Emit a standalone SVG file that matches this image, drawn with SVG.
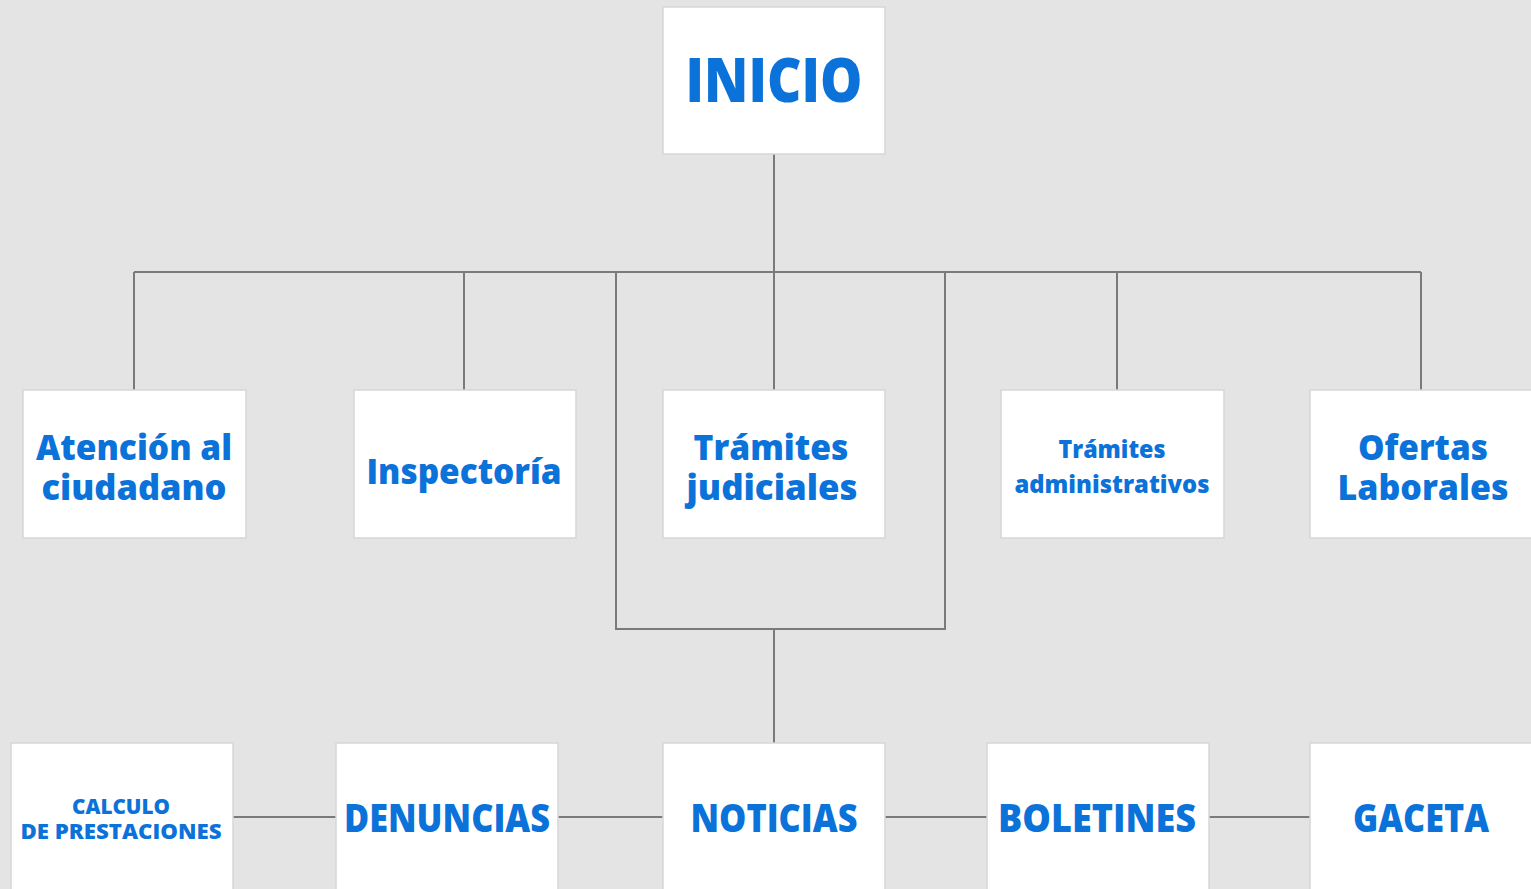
<svg xmlns="http://www.w3.org/2000/svg" width="1531" height="889" viewBox="0 0 1531 889">
<style>
.bg{fill:#e4e4e4}
.box{fill:#ffffff;stroke:#d6d6d6;stroke-width:1.5}
.t{font-family:"Open Sans","Noto Sans","Liberation Sans",sans-serif;font-weight:800;fill:#0b72d9;text-anchor:middle}
.ln{stroke:#7a7a7a;stroke-width:2;fill:none}
</style>
<rect class="bg" x="0" y="0" width="1531" height="889"/>
<g id="connectors">
<path class="ln" d="M774 154V272M134 272H1421M134 272V390M464 272V390M774 272V390M1117 272V390M1421 272V390"/>
<path class="ln" d="M616 272V629H945V272M774 629V743"/>
<path class="ln" d="M233 817H336M558 817H663M885 817H987M1209 817H1310"/>
</g>
<g id="inicio"><rect class="box" x="663" y="7" width="222" height="147"/><text class="t" x="774" y="102" font-size="62" textLength="177" lengthAdjust="spacingAndGlyphs">INICIO</text></g>
<g id="atencion"><rect class="box" x="23" y="390" width="223" height="148"/><text class="t" x="134" y="460" font-size="35" textLength="196" lengthAdjust="spacingAndGlyphs">Atención al</text><text class="t" x="134" y="500" font-size="35" textLength="185" lengthAdjust="spacingAndGlyphs">ciudadano</text></g>
<g id="inspectoria"><rect class="box" x="354" y="390" width="222" height="148"/><text class="t" x="464" y="484" font-size="36" textLength="195" lengthAdjust="spacingAndGlyphs">Inspectoría</text></g>
<g id="tramites-judiciales"><rect class="box" x="663" y="390" width="222" height="148"/><text class="t" x="771" y="460" font-size="35" textLength="155" lengthAdjust="spacingAndGlyphs">Trámites</text><text class="t" x="772" y="500" font-size="35" textLength="171" lengthAdjust="spacingAndGlyphs">judiciales</text></g>
<g id="tramites-administrativos"><rect class="box" x="1001" y="390" width="223" height="148"/><text class="t" x="1112" y="458" font-size="25" textLength="107" lengthAdjust="spacingAndGlyphs">Trámites</text><text class="t" x="1112" y="493" font-size="25" textLength="195" lengthAdjust="spacingAndGlyphs">administrativos</text></g>
<g id="ofertas"><rect class="box" x="1310" y="390" width="230" height="148"/><text class="t" x="1423" y="460" font-size="35" textLength="130" lengthAdjust="spacingAndGlyphs">Ofertas</text><text class="t" x="1423" y="500" font-size="35" textLength="171" lengthAdjust="spacingAndGlyphs">Laborales</text></g>
<g id="calculo"><rect class="box" x="11" y="743" width="222" height="160"/><text class="t" x="121" y="814" font-size="21" textLength="98" lengthAdjust="spacingAndGlyphs">CALCULO</text><text class="t" x="121" y="839" font-size="21" textLength="201" lengthAdjust="spacingAndGlyphs">DE PRESTACIONES</text></g>
<g id="denuncias"><rect class="box" x="336" y="743" width="222" height="160"/><text class="t" x="447" y="832" font-size="38" textLength="206" lengthAdjust="spacingAndGlyphs">DENUNCIAS</text></g>
<g id="noticias"><rect class="box" x="663" y="743" width="222" height="160"/><text class="t" x="774" y="832" font-size="38" textLength="167" lengthAdjust="spacingAndGlyphs">NOTICIAS</text></g>
<g id="boletines"><rect class="box" x="987" y="743" width="222" height="160"/><text class="t" x="1097" y="832" font-size="38" textLength="198" lengthAdjust="spacingAndGlyphs">BOLETINES</text></g>
<g id="gaceta"><rect class="box" x="1310" y="743" width="230" height="160"/><text class="t" x="1421" y="832" font-size="38" textLength="136" lengthAdjust="spacingAndGlyphs">GACETA</text></g>
</svg>
